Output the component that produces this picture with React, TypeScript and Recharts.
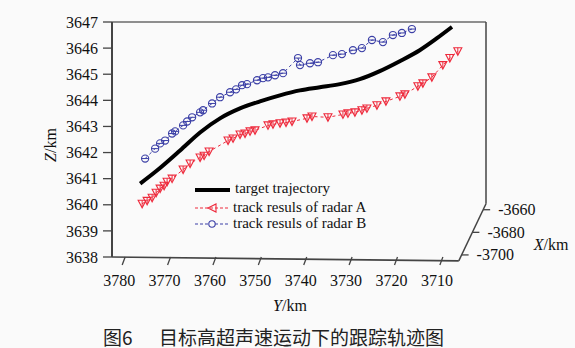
import React from 'react';
import { ComposedChart, Line, XAxis, YAxis, ReferenceLine, ReferenceDot, Legend } from 'recharts';

// Y/km (horizontal axis) ticks, Z/km (vertical) ticks, X/km (depth) ticks
const yTicks = [3780, 3770, 3760, 3750, 3740, 3730, 3720, 3710];
const zTicks = [3638, 3639, 3640, 3641, 3642, 3643, 3644, 3645, 3646, 3647];
const xDepthTicks = [-3660, -3680, -3700];

const yDomain: [number, number] = [3700.5, 3782.9];
const zDomain: [number, number] = [3638, 3647];
const depthDomain: [number, number] = [-3654.7, -3705.3];

// projected frame corners (Y value, Z value)
const frameLeftY = 3782.9;
const frameRightY = 3700.5;
const frameFrontY = 3706.5;
const frameRightZ = 3640.04;
const frameFrontZ = 3637.85;

// target trajectory
const trajY = [3776.7, 3773.0, 3767.9, 3763.5, 3759.1, 3754.7, 3750.3, 3745.9, 3741.5, 3737.1, 3732.7, 3728.3, 3723.9, 3719.5, 3715.1, 3711.3, 3708.0];
const trajZ = [3640.81, 3641.31, 3642.08, 3642.77, 3643.31, 3643.69, 3643.96, 3644.19, 3644.38, 3644.5, 3644.62, 3644.81, 3645.12, 3645.5, 3645.92, 3646.38, 3646.81];

// radar A track
const radarAY = [3776.26, 3775.16, 3774.06, 3773.18, 3772.30, 3771.42, 3770.76, 3769.66, 3767.23, 3765.69, 3763.49, 3762.61, 3761.51, 3757.33, 3756.23, 3754.69, 3753.59, 3752.49, 3751.39, 3748.53, 3747.43, 3745.88, 3744.56, 3743.24, 3739.94, 3738.84, 3735.32, 3732.02, 3730.92, 3729.38, 3727.84, 3726.74, 3724.53, 3722.55, 3719.47, 3718.37, 3715.51, 3714.41, 3712.43, 3710.01, 3708.47, 3706.71];
const radarAZ = [3640.04, 3640.15, 3640.27, 3640.46, 3640.62, 3640.73, 3640.88, 3641.0, 3641.35, 3641.58, 3641.81, 3641.88, 3642.04, 3642.46, 3642.54, 3642.69, 3642.73, 3642.81, 3642.85, 3643.04, 3643.08, 3643.12, 3643.15, 3643.19, 3643.31, 3643.38, 3643.35, 3643.46, 3643.5, 3643.54, 3643.62, 3643.69, 3643.81, 3643.96, 3644.15, 3644.23, 3644.54, 3644.65, 3644.88, 3645.35, 3645.62, 3645.88];

// radar B track
const radarBY = [3775.60, 3773.40, 3772.30, 3771.20, 3769.66, 3768.99, 3767.23, 3766.35, 3765.25, 3763.49, 3762.83, 3760.85, 3759.09, 3756.89, 3755.57, 3754.25, 3753.15, 3750.95, 3749.63, 3748.53, 3746.98, 3745.22, 3741.92, 3741.48, 3739.28, 3737.52, 3734.22, 3732.24, 3729.82, 3727.84, 3725.63, 3723.21, 3721.01, 3719.03, 3716.83];
const radarBZ = [3641.77, 3642.15, 3642.35, 3642.46, 3642.73, 3642.81, 3643.04, 3643.19, 3643.35, 3643.54, 3643.62, 3643.88, 3644.12, 3644.31, 3644.42, 3644.58, 3644.62, 3644.77, 3644.85, 3644.88, 3644.96, 3645.04, 3645.62, 3645.35, 3645.42, 3645.46, 3645.73, 3645.77, 3645.92, 3646.0, 3646.31, 3646.23, 3646.5, 3646.58, 3646.73];

const trajData = trajY.map((y, i) => ({ y, z: trajZ[i] }));
const radarAData = radarAY.map((y, i) => ({ y, z: radarAZ[i] }));
const radarBData = radarBY.map((y, i) => ({ y, z: radarBZ[i] }));

const SERIF = '"Liberation Serif", "Times New Roman", serif';
const RED = '#ee2a3c';
const BLUE = '#3b3fa6';
const AXIS = '#444';

const depthPos = (d: number) => {
  const t = (d - depthDomain[0]) / (depthDomain[1] - depthDomain[0]);
  return {
    y: frameRightY + t * (frameFrontY - frameRightY),
    z: frameRightZ + t * (frameFrontZ - frameRightZ),
  };
};

const YTick = (props: any) => {
  const { x, y, payload } = props;
  return (
    <g>
      <line x1={x} y1={y} x2={x - 3} y2={y + 8} stroke={AXIS} strokeWidth={1.3} />
      <text x={x - 6} y={y + 23} textAnchor="middle" dominantBaseline="central" fontSize={16} fontFamily={SERIF} fill="#111">
        {payload.value}
      </text>
    </g>
  );
};

const Tri = (props: any) => {
  const { cx, cy } = props;
  if (cx == null || cy == null) return null;
  return (
    <g>
      <path d={`M${cx - 4},${cy - 3.5} L${cx + 4},${cy - 3.5} L${cx},${cy + 4} Z`} fill="none" stroke={RED} strokeWidth={1.1} />
      <line x1={cx} y1={cy - 3.5} x2={cx} y2={cy + 3} stroke={RED} strokeWidth={1} />
    </g>
  );
};

const Circ = (props: any) => {
  const { cx, cy } = props;
  if (cx == null || cy == null) return null;
  return (
    <g>
      <circle cx={cx} cy={cy} r={3.6} fill="none" stroke={BLUE} strokeWidth={1.1} />
      <line x1={cx - 3.6} y1={cy} x2={cx + 3.6} y2={cy} stroke={BLUE} strokeWidth={1} />
    </g>
  );
};

const DepthTick = (props: any) => {
  const { cx, cy, text } = props;
  return (
    <g>
      <line x1={cx} y1={cy} x2={cx + 7} y2={cy} stroke={AXIS} strokeWidth={1.3} />
      <text x={cx + 15} y={cy} dominantBaseline="central" fontSize={16} fontFamily={SERIF} fill="#111">
        {text}
      </text>
    </g>
  );
};

const renderLegend = () => (
  <svg width={200} height={56} style={{ display: 'block' }}>
    <line x1={5} y1={12} x2={40} y2={12} stroke="#000" strokeWidth={4} />
    <text x={45} y={10} dominantBaseline="central" fontSize={15} fontFamily={SERIF} fill="#111">target trajectory</text>
    <line x1={5} y1={30} x2={38} y2={30} stroke={RED} strokeWidth={1} strokeDasharray="3 2" />
    <path d="M18,30 L26,26 L26,34 Z" fill="none" stroke={RED} strokeWidth={1.1} />
    <text x={43} y={29} dominantBaseline="central" fontSize={15} fontFamily={SERIF} fill="#111">track resuls of radar A</text>
    <line x1={5} y1={46} x2={38} y2={46} stroke={BLUE} strokeWidth={1} strokeDasharray="3 2" />
    <circle cx={22} cy={46} r={3.2} fill="#fafafa" stroke={BLUE} strokeWidth={1.1} />
    <text x={43} y={45} dominantBaseline="central" fontSize={15} fontFamily={SERIF} fill="#111">track resuls of radar B</text>
  </svg>
);

const XTitles = () => (
  <g>
    <text x={290} y={305} textAnchor="middle" dominantBaseline="central" fontSize={16} fontFamily={SERIF} fill="#111">
      <tspan fontStyle="italic">Y</tspan>/km
    </text>
    <text x={551} y={244} textAnchor="middle" dominantBaseline="central" fontSize={16} fontFamily={SERIF} fill="#111">
      <tspan fontStyle="italic">X</tspan>/km
    </text>
    <text x={103} y={336} dominantBaseline="central" fontSize={19} fontFamily='"Noto Sans CJK SC", sans-serif' fill="#222">图6</text>
    <text x={159} y={336} dominantBaseline="central" fontSize={19} fontFamily='"Noto Sans CJK SC", sans-serif' fill="#222">目标高超声速运动下的跟踪轨迹图</text>
  </g>
);

const ZTitle = () => (
  <text x={50} y={145} textAnchor="middle" dominantBaseline="central" fontSize={16} fontFamily={SERIF} fill="#111" transform="rotate(-90 50 145)">
    <tspan fontStyle="italic">Z</tspan>/km
  </text>
);

export default function App() {
  return (
    <div style={{ position: 'absolute', left: 0, top: 0, width: 575, height: 348, background: '#fafafa' }}>
      <ComposedChart width={575} height={348} margin={{ top: 22, right: 89, left: 0, bottom: 51 }}>
        <XAxis
          dataKey="y"
          type="number"
          reversed
          domain={yDomain}
          ticks={yTicks}
          allowDataOverflow
          axisLine={false}
          tickLine={false}
          tickSize={0}
          tickMargin={0}
          tick={<YTick />}
          height={40}
          label={{ content: () => <XTitles /> }}
        />
        <YAxis
          dataKey="z"
          type="number"
          domain={zDomain}
          ticks={zTicks}
          allowDataOverflow
          width={112}
          axisLine={{ stroke: AXIS, strokeWidth: 2 }}
          tickLine={{ stroke: AXIS, strokeWidth: 1.3 }}
          tickSize={9}
          tickMargin={5}
          tick={{ fontSize: 16, fontFamily: SERIF, fill: '#111' }}
          label={{ content: () => <ZTitle /> }}
        />
        <ReferenceLine segment={[{ x: frameLeftY, y: zDomain[1] }, { x: frameRightY, y: zDomain[1] }]} stroke="#222" strokeWidth={1.2} ifOverflow="visible" />
        <ReferenceLine segment={[{ x: frameRightY, y: zDomain[1] }, { x: frameRightY, y: frameRightZ }]} stroke={AXIS} strokeWidth={1.5} ifOverflow="visible" />
        <ReferenceLine segment={[{ x: frameRightY, y: frameRightZ }, { x: frameFrontY, y: frameFrontZ }]} stroke={AXIS} strokeWidth={1.5} ifOverflow="visible" />
        <ReferenceLine segment={[{ x: frameLeftY, y: zDomain[0] }, { x: frameFrontY, y: frameFrontZ }]} stroke={AXIS} strokeWidth={1.6} ifOverflow="visible" />
        {xDepthTicks.map((d) => {
          const p = depthPos(d);
          return (
            <ReferenceDot
              key={d}
              x={p.y}
              y={p.z}
              r={0}
              ifOverflow="visible"
              shape={(sp: any) => <DepthTick {...sp} text={String(d)} />}
            />
          );
        })}
        <Line data={radarAData} dataKey="z" type="linear" stroke={RED} strokeWidth={1} strokeDasharray="3 3" isAnimationActive={false}
          dot={(p: any) => <Tri key={`a${p.index}`} {...p} />} legendType="none" />
        <Line data={radarBData} dataKey="z" type="linear" stroke={BLUE} strokeWidth={1} strokeDasharray="3 3" isAnimationActive={false}
          dot={(p: any) => <Circ key={`b${p.index}`} {...p} />} legendType="none" />
        <Line data={trajData} dataKey="z" type="monotone" stroke="#000" strokeWidth={4} dot={false} isAnimationActive={false} legendType="none" />
        <Legend
          layout="horizontal"
          verticalAlign="middle"
          align="center"
          content={renderLegend}
          wrapperStyle={{ position: 'absolute', left: 190, top: 178, width: 200, height: 56 }}
        />
      </ComposedChart>
    </div>
  );
}
